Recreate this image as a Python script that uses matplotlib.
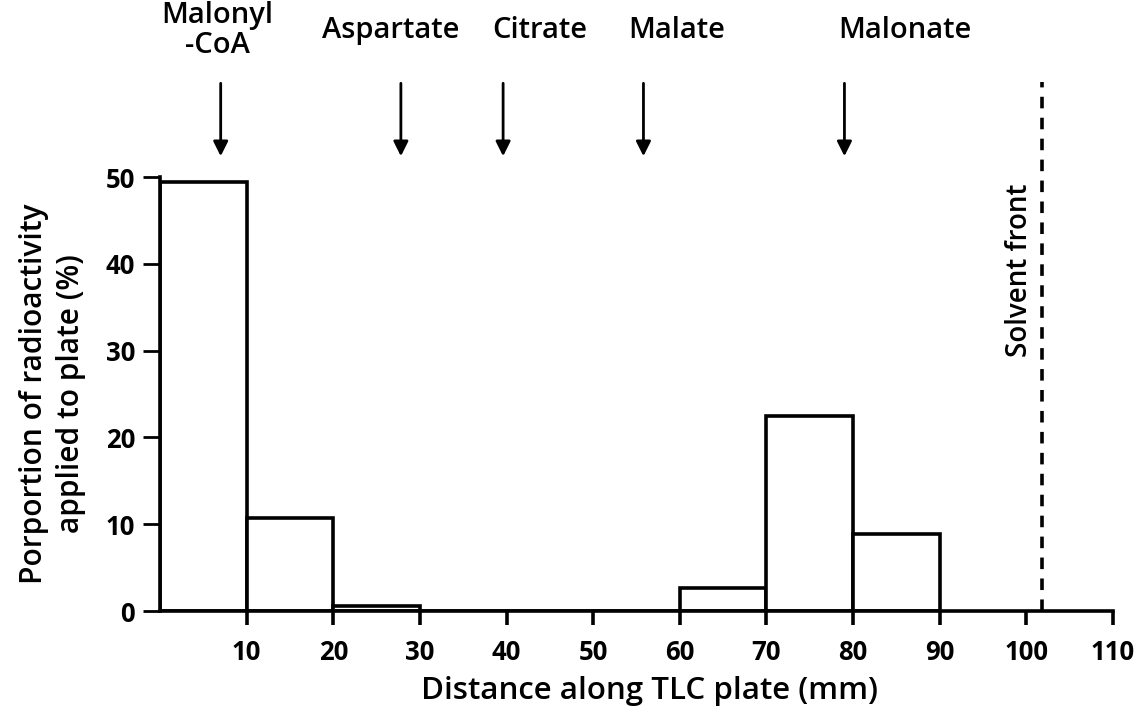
import matplotlib
matplotlib.use("Agg")
import matplotlib.pyplot as plt

# Histogram of radioactivity along the TLC plate (10 mm bins)
bin_starts = [0, 10, 20, 30, 40, 50, 60, 70, 80]
bin_width = 10
percent = [49.4, 10.7, 0.6, 0.0, 0.0, 0.0, 2.6, 22.5, 8.9]

# Marker compounds and their migration distances (mm)
markers = ["Malonyl\n-CoA", "Aspartate", "Citrate", "Malate", "Malonate"]
marker_pos = [7.0, 27.8, 39.6, 55.8, 79.0]
label_pos = [6.6, 26.6, 43.8, 59.6, 86.0]

solvent_front = 101.8

x_ticks = [10, 20, 30, 40, 50, 60, 70, 80, 90, 100, 110]
y_ticks = [0, 10, 20, 30, 40, 50]

font = "Open Sans"

fig = plt.figure(figsize=(11.44, 7.11), dpi=100)
ax = fig.add_axes([0.1399, 0.1406, 0.833, 0.6104])

ax.bar(bin_starts, percent, width=bin_width, align="edge",
       facecolor="white", edgecolor="black", linewidth=2.6, zorder=2)

ax.set_xlim(0, 110)
ax.set_ylim(0, 50)

for side in ("top", "right"):
    ax.spines[side].set_visible(False)
for side in ("left", "bottom"):
    ax.spines[side].set_linewidth(2.6)

ax.set_xticks(x_ticks)
ax.set_yticks(y_ticks)
ax.tick_params(axis="x", direction="out", length=10, width=2.6, pad=10)
ax.tick_params(axis="y", direction="out", length=12, width=2.0, pad=6)
for lbl in ax.get_xticklabels() + ax.get_yticklabels():
    lbl.set_fontfamily(font)
    lbl.set_fontweight("bold")
    lbl.set_fontsize(18.5)

ax.set_xlabel("Distance along TLC plate (mm)", fontfamily=font,
              fontsize=22.5, fontweight="semibold", labelpad=7)
ax.xaxis.label.set_x(0.514)
ax.set_ylabel("Porportion of radioactivity\napplied to plate (%)",
              fontfamily=font, fontsize=21.5, fontweight="semibold",
              labelpad=14, linespacing=1.3)

# Solvent front
ax.plot([solvent_front, solvent_front], [0, 61], color="black",
        linestyle=(0, (3.2, 2.6)), linewidth=2.6, clip_on=False, zorder=3)
ax.text(solvent_front - 2.6, 39.3, "Solvent front", rotation=90,
        ha="center", va="center", fontfamily=font, fontsize=20,
        fontweight="semibold")

# Marker arrows and names
for name, xm, xl in zip(markers, marker_pos, label_pos):
    ax.annotate("", xy=(xm, 52.4), xytext=(xm, 60.8),
                xycoords="data", textcoords="data", annotation_clip=False,
                arrowprops=dict(arrowstyle="-|>", color="black", lw=2.0,
                                mutation_scale=22, shrinkA=0, shrinkB=0))
    ax.text(xl, 66.9, name, ha="center", va="center", fontfamily=font,
            fontsize=21, fontweight="semibold", linespacing=1.05,
            clip_on=False)

fig.savefig("out.png", dpi=100, facecolor="white")
